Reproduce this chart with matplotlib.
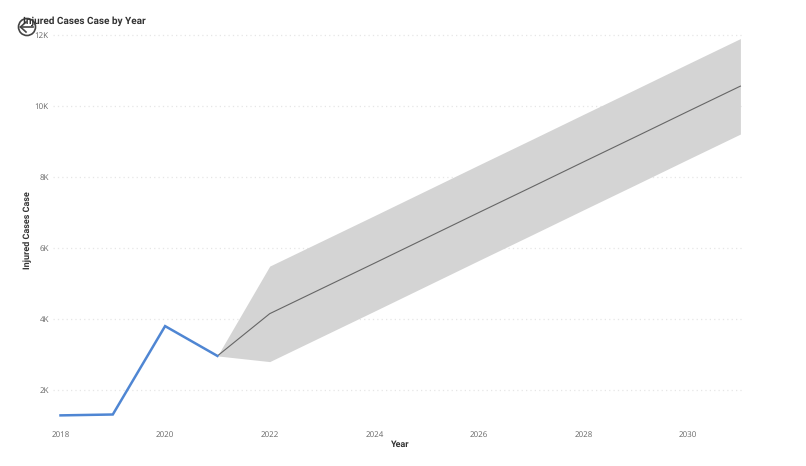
import matplotlib as mpl
mpl.use('Agg')
mpl.rcParams['text.hinting'] = 'none'
mpl.rcParams['text.hinting_factor'] = 1
import matplotlib.pyplot as plt
from matplotlib.lines import Line2D
from matplotlib.patches import Circle
from matplotlib.transforms import Affine2D

# values
actual_years = [2018, 2019, 2020, 2021]
actual_cases = [1285, 1310, 3800, 2960]
forecast_years = [2021, 2022, 2023, 2024, 2025, 2026, 2027, 2028, 2029, 2030, 2031]
forecast_cases = [2960, 4150, 4860, 5570, 6285, 7000, 7710, 8425, 9135, 9850, 10560]
forecast_upper = [2960, 5490, 6200, 6910, 7625, 8340, 9050, 9765, 10475, 11190, 11900]
forecast_lower = [2960, 2800, 3510, 4220, 4935, 5650, 6360, 7075, 7785, 8500, 9210]
x_ticks = [2018, 2020, 2022, 2024, 2026, 2028, 2030]
y_ticks = [2000, 4000, 6000, 8000, 10000, 12000]
y_labels = ['2K', '4K', '6K', '8K', '10K', '12K']

W, H = 806, 466
fig = plt.figure(figsize=(W / 100, H / 100), dpi=100)
# axes box in pixels: left 53, right 743, top 35, bottom 425
ax = fig.add_axes([53 / W, 1 - 425 / H, 690 / W, 390 / H])
ax.set_xlim(2018 - 7.5 / 52.3, 2018 + 682.5 / 52.3)
ax.set_ylim(12000 - 390 / 35.5 * 1000, 12000)

ax.fill_between(forecast_years, forecast_lower, forecast_upper, color='#d4d4d4', lw=0, zorder=2)
ax.plot(forecast_years, forecast_cases, color='#666666', lw=0.8, zorder=3)
ax.plot(actual_years, actual_cases, color='#4f86d3', lw=1.8, zorder=4, solid_joinstyle='miter')

for s in ax.spines.values():
    s.set_visible(False)
ax.set_xticks(x_ticks)
ax.set_yticks(y_ticks)
ax.set_yticklabels(y_labels)
ax.tick_params(length=0, labelsize=5.8, labelcolor='#666666')
ax.tick_params(axis='x', pad=4)
ax.tick_params(axis='y', pad=3)
for lab in ax.get_xticklabels() + ax.get_yticklabels():
    lab.set_family('Open Sans')
ax.grid(axis='y', color='#e6e6e6', lw=0.9, ls=(0, (1, 2.5)), zorder=1, clip_on=False)
ax.set_axisbelow(True)

fig.text(400 / W, 1 - 444 / H, 'Year', fontsize=6.5, fontweight='bold', family='Roboto',
         color='#333333', ha='center', va='center')
fig.text(28 / W, 1 - 230 / H, 'Injured Cases Case', rotation=90, fontsize=6.6, fontweight='bold',
         family='Roboto', color='#333333', ha='center', va='center')
fig.text(23 / W, 1 - 21 / H, 'Injured Cases Case by Year', fontsize=7.1, fontweight='bold',
         family='Roboto', color='#333333', ha='left', va='center')

# back button, drawn in pixel coords
px = Affine2D().scale(1, -1).translate(0, H)
fig.add_artist(Circle((27, 27), 8.5, fill=False, ec='#444444', lw=1.2, transform=px))
for xs, ys in [([20.5, 33], [27, 27]), ([20.5, 26], [27, 22]), ([20.5, 26], [27, 32])]:
    fig.add_artist(Line2D(xs, ys, color='#444444', lw=1.2, transform=px))

fig.savefig('out.png', dpi=100)
